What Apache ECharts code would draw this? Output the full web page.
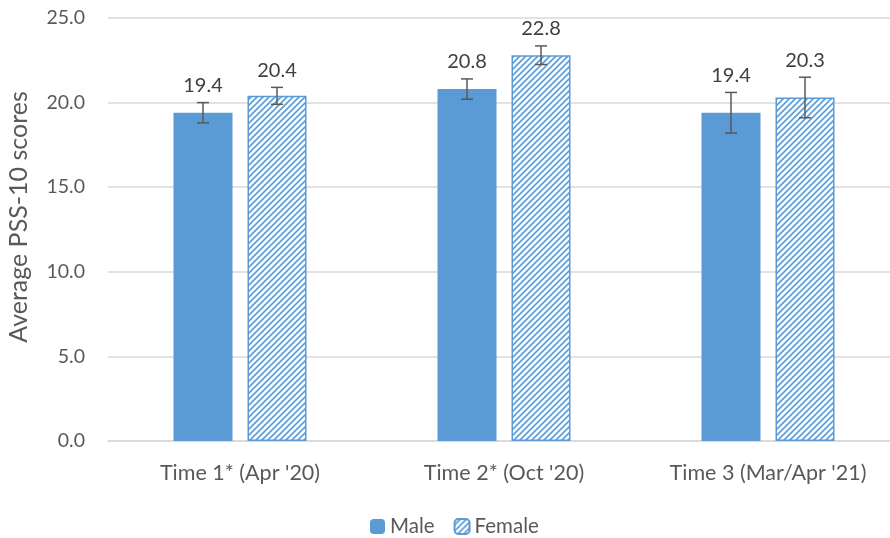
<!DOCTYPE html>
<html><head><meta charset="utf-8">
<script src="https://cdn.jsdelivr.net/npm/echarts@6/dist/echarts.min.js"></script>
<style>html,body{margin:0;padding:0;background:#fff}#c{width:890px;height:538px}</style>
</head><body><div id="c"></div>
<script>
const categories = ["Time 1* (Apr '20)", "Time 2* (Oct '20)", "Time 3 (Mar/Apr '21)"];
const seriesNames = ["Male", "Female"];
const maleValues = [19.4, 20.8, 19.4];
const femaleValues = [20.4, 22.8, 20.3];
const maleErrors = [0.6, 0.6, 1.2];
const femaleErrors = [0.5, 0.55, 1.2];
const yAxisTitle = 'Average PSS-10 scores';

const FONT = 'Lato';
const BLUE = '#5B9BD5';
const BAR_W = 59, BAR_GAP = 15;

function hatch() {
  const s = 6, c = document.createElement('canvas');
  c.width = s; c.height = s;
  const g = c.getContext('2d');
  g.fillStyle = '#fff'; g.fillRect(0, 0, s, s);
  g.strokeStyle = BLUE; g.lineWidth = 1.6;
  g.beginPath();
  g.moveTo(-2, s + 2); g.lineTo(s + 2, -2);
  g.moveTo(-2, 2); g.lineTo(2, -2);
  g.moveTo(s - 2, s + 2); g.lineTo(s + 2, s - 2);
  g.stroke();
  return c;
}
const pattern = { image: hatch(), repeat: 'repeat' };

function errSeries(name, vals, errs, side) {
  return {
    type: 'custom', name: name, z: 5,
    data: vals.map((v, i) => [i, v, errs[i]]),
    renderItem(params, api) {
      const i = api.value(0), v = api.value(1), e = api.value(2);
      const c = api.coord([i, v]);
      const x = c[0] + side * (BAR_W + BAR_GAP) / 2;
      const top = api.coord([i, v + e])[1], bot = api.coord([i, v - e])[1];
      const cap = 6;
      const st = { stroke: '#595959', lineWidth: 1.5 };
      const ly = Math.min(c[1] - 25, top - 17);
      return { type: 'group', children: [
        { type: 'line', shape: { x1: x, y1: top, x2: x, y2: bot }, style: st },
        { type: 'line', shape: { x1: x - cap, y1: top, x2: x + cap, y2: top }, style: st },
        { type: 'line', shape: { x1: x - cap, y1: bot, x2: x + cap, y2: bot }, style: st },
        { type: 'text', x: x, y: ly, style: { text: v.toFixed(1), align: 'center', verticalAlign: 'middle', fill: '#404040', fontFamily: FONT, fontSize: 20 } }
      ] };
    }
  };
}

const chart = echarts.init(document.getElementById('c'));
chart.setOption({
  animation: false,
  textStyle: { fontFamily: FONT },
  grid: { left: 108, width: 792, top: 18, bottom: 97, outerBoundsMode: 'none', containLabel: false },
  graphic: [{
    type: 'text', x: 19, y: 217, rotation: Math.PI / 2,
    style: { text: yAxisTitle, fontSize: 25, fill: '#595959', fontFamily: FONT, align: 'center', verticalAlign: 'middle' }
  }],
  legend: {
    data: seriesNames, left: 365, bottom: -4, itemWidth: 15, itemHeight: 15, itemGap: 19,
    textStyle: { fontSize: 20.5, color: '#595959', fontFamily: FONT }
  },
  xAxis: {
    type: 'category', data: categories,
    axisLine: { lineStyle: { color: '#d9d9d9', width: 1.5 } },
    axisTick: { show: false },
    axisLabel: { fontSize: 21.5, color: '#595959', margin: 21, fontFamily: FONT }
  },
  yAxis: {
    type: 'value', min: 0, max: 25, interval: 5,
    axisLine: { show: false }, axisTick: { show: false },
    axisLabel: { fontSize: 19.5, color: '#595959', margin: 23, formatter: v => v.toFixed(1), fontFamily: FONT },
    splitLine: { lineStyle: { color: '#d9d9d9', width: 1.5 } }
  },
  series: [
    { name: 'Male', type: 'bar', data: maleValues, barWidth: BAR_W, barGap: (BAR_GAP / BAR_W * 100) + '%',
      itemStyle: { color: BLUE } },
    { name: 'Female', type: 'bar', data: femaleValues, barWidth: BAR_W,
      itemStyle: { color: pattern, borderColor: BLUE, borderWidth: 1.5 } },
    errSeries('errMale', maleValues, maleErrors, -1),
    errSeries('errFemale', femaleValues, femaleErrors, 1)
  ]
});
</script></body></html>
